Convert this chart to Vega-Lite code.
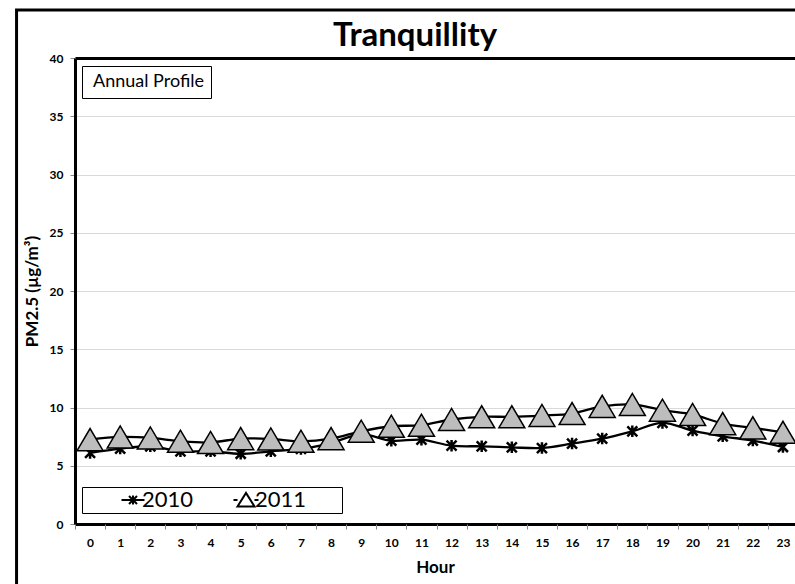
{
  "$schema": "https://vega.github.io/schema/vega-lite/v6.json",
  "width": 720,
  "height": 466,
  "autosize": {"type": "none"},
  "padding": {"left": 75, "top": 58, "right": 0, "bottom": 60},
  "background": "white",
  "config": {
    "view": {"stroke": null},
    "font": "Lato",
    "axis": {"labelFont": "Lato", "titleFont": "Lato", "labelColor": "black", "titleColor": "black"}
  },
  "title": {"text": "Tranquillity", "fontSize": 33, "font": "Lato", "fontWeight": "bold", "color": "black", "anchor": "middle", "dx": -20, "baseline": "alphabetic", "offset": -70},
  "datasets": {
    "pm": [
      {"hour": 0, "year": "2010", "pm": 6.1},
      {"hour": 1, "year": "2010", "pm": 6.47},
      {"hour": 2, "year": "2010", "pm": 6.67},
      {"hour": 3, "year": "2010", "pm": 6.24},
      {"hour": 4, "year": "2010", "pm": 6.24},
      {"hour": 5, "year": "2010", "pm": 6.03},
      {"hour": 6, "year": "2010", "pm": 6.24},
      {"hour": 7, "year": "2010", "pm": 6.44},
      {"hour": 8, "year": "2010", "pm": 6.95},
      {"hour": 9, "year": "2010", "pm": 7.7},
      {"hour": 10, "year": "2010", "pm": 7.15},
      {"hour": 11, "year": "2010", "pm": 7.24},
      {"hour": 12, "year": "2010", "pm": 6.72},
      {"hour": 13, "year": "2010", "pm": 6.67},
      {"hour": 14, "year": "2010", "pm": 6.58},
      {"hour": 15, "year": "2010", "pm": 6.52},
      {"hour": 16, "year": "2010", "pm": 6.9},
      {"hour": 17, "year": "2010", "pm": 7.33},
      {"hour": 18, "year": "2010", "pm": 7.96},
      {"hour": 19, "year": "2010", "pm": 8.68},
      {"hour": 20, "year": "2010", "pm": 8.02},
      {"hour": 21, "year": "2010", "pm": 7.53},
      {"hour": 22, "year": "2010", "pm": 7.16},
      {"hour": 23, "year": "2010", "pm": 6.61},
      {"hour": 0, "year": "2011", "pm": 7.24},
      {"hour": 1, "year": "2011", "pm": 7.47},
      {"hour": 2, "year": "2011", "pm": 7.39},
      {"hour": 3, "year": "2011", "pm": 7.1},
      {"hour": 4, "year": "2011", "pm": 7.0},
      {"hour": 5, "year": "2011", "pm": 7.33},
      {"hour": 6, "year": "2011", "pm": 7.3},
      {"hour": 7, "year": "2011", "pm": 7.1},
      {"hour": 8, "year": "2011", "pm": 7.33},
      {"hour": 9, "year": "2011", "pm": 7.96},
      {"hour": 10, "year": "2011", "pm": 8.39},
      {"hour": 11, "year": "2011", "pm": 8.48},
      {"hour": 12, "year": "2011", "pm": 8.97},
      {"hour": 13, "year": "2011", "pm": 9.2},
      {"hour": 14, "year": "2011", "pm": 9.2},
      {"hour": 15, "year": "2011", "pm": 9.31},
      {"hour": 16, "year": "2011", "pm": 9.48},
      {"hour": 17, "year": "2011", "pm": 10.1},
      {"hour": 18, "year": "2011", "pm": 10.26},
      {"hour": 19, "year": "2011", "pm": 9.77},
      {"hour": 20, "year": "2011", "pm": 9.4},
      {"hour": 21, "year": "2011", "pm": 8.62},
      {"hour": 22, "year": "2011", "pm": 8.25},
      {"hour": 23, "year": "2011", "pm": 7.87}
    ],
    "note": [{"note": "Annual Profile"}],
    "frame": [{"x0": -2.44, "x1": 30, "y0": -10, "y1": 44.12}]
  },
  "resolve": {"axis": {"x": "independent", "y": "independent"}, "scale": {"shape": "independent"}},
  "layer": [
    {
      "data": {"name": "frame"},
      "mark": {"type": "rect", "filled": false, "stroke": "black", "strokeWidth": 3, "clip": false},
      "encoding": {
        "x": {"field": "x0", "type": "quantitative", "scale": {"domain": [-0.5, 23.4], "nice": false, "zero": false}, "axis": null},
        "x2": {"field": "x1"},
        "y": {"field": "y0", "type": "quantitative", "scale": {"domain": [0, 40], "nice": false}, "axis": null},
        "y2": {"field": "y1"}
      }
    },
    {
      "data": {"name": "pm"},
      "mark": {"type": "line", "stroke": "black", "strokeWidth": 2.3, "interpolate": "catmull-rom"},
      "encoding": {
        "x": {"field": "hour", "type": "quantitative", "scale": {"domain": [-0.5, 23.4], "nice": false, "zero": false},
          "axis": {"orient": "top", "labels": false, "ticks": false, "grid": false, "title": null, "domain": true, "domainColor": "black", "domainWidth": 3}},
        "y": {"field": "pm", "type": "quantitative", "scale": {"domain": [0, 40], "nice": false},
          "axis": {"values": [0, 5, 10, 15, 20, 25, 30, 35, 40], "grid": true, "gridColor": "#d9d9d9", "gridWidth": 1.2,
            "domain": true, "domainColor": "black", "domainWidth": 3, "tickColor": "#888", "tickSize": 5,
            "labelFontSize": 12, "labelFontWeight": "bold", "labelPadding": 7,
            "title": "PM2.5 (µg/m³)", "titleFontSize": 17, "titleFontWeight": "bold", "titlePadding": 8}},
        "detail": {"field": "year", "type": "nominal"}
      }
    },
    {
      "data": {"name": "pm"},
      "transform": [{"filter": "datum.year == '2010'"}],
      "mark": {"type": "point", "shape": "M-1,-1L1,1M-1,1L1,-1M0,-1.15L0,1.15", "size": 100, "filled": false, "stroke": "black", "strokeWidth": 2.5, "opacity": 1},
      "encoding": {
        "x": {"field": "hour", "type": "quantitative", "scale": {"domain": [-0.5, 23.4], "nice": false, "zero": false},
          "axis": {"values": [0, 1, 2, 3, 4, 5, 6, 7, 8, 9, 10, 11, 12, 13, 14, 15, 16, 17, 18, 19, 20, 21, 22, 23],
            "ticks": false, "domain": true, "domainColor": "black", "domainWidth": 3,
            "grid": false, "labelFontSize": 12, "labelFontWeight": "bold", "labelPadding": 13,
            "title": "Hour", "titleFontSize": 17, "titleFontWeight": "bold", "titlePadding": 11}},
        "y": {"field": "pm", "type": "quantitative", "scale": {"domain": [0, 40], "nice": false}, "axis": null}
      }
    },
    {
      "data": {"name": "pm"},
      "transform": [{"filter": "datum.year == '2011'"}],
      "mark": {"type": "point", "shape": "M-1,0.85L0,-0.85L1,0.85Z", "size": 676, "filled": true, "fill": "#bdbdbd", "stroke": "black", "strokeWidth": 1.5, "opacity": 1},
      "encoding": {
        "x": {"field": "hour", "type": "quantitative", "scale": {"domain": [-0.5, 23.4], "nice": false, "zero": false},
          "axis": {"orient": "bottom", "values": [-0.5, 0.5, 1.5, 2.5, 3.5, 4.5, 5.5, 6.5, 7.5, 8.5, 9.5, 10.5, 11.5, 12.5, 13.5, 14.5, 15.5, 16.5, 17.5, 18.5, 19.5, 20.5, 21.5, 22.5],
            "labels": false, "ticks": true, "tickSize": 5, "tickColor": "#888", "domain": false, "grid": false, "title": null}},
        "y": {"field": "pm", "type": "quantitative", "scale": {"domain": [0, 40], "nice": false}, "axis": null}
      }
    },
    {
      "data": {"name": "pm"},
      "mark": {"type": "point", "opacity": 0, "size": 100},
      "encoding": {
        "x": {"field": "hour", "type": "quantitative", "scale": {"domain": [-0.5, 23.4], "nice": false, "zero": false}, "axis": null},
        "y": {"field": "pm", "type": "quantitative", "scale": {"domain": [0, 40], "nice": false}, "axis": null},
        "shape": {"field": "year", "type": "nominal",
          "scale": {"domain": ["2010", "2011"], "range": [
            "M-2.3,0L2.3,0M-0.8,-0.8L0.8,0.8M-0.8,0.8L0.8,-0.8M0,-0.9L0,0.9",
            "M-2.5,0L-1.7,0M1.7,0L2.5,0M-1.7,1.3L0,-1.4L1.7,1.3ZM18,0"]},
          "legend": {"orient": "none", "legendX": 7, "legendY": 429, "direction": "horizontal", "title": null,
            "strokeColor": "black", "fillColor": "white", "padding": 2, "columnPadding": 3,
            "symbolSize": 100, "symbolOpacity": 1, "symbolStrokeColor": "black", "symbolFillColor": "#bdbdbd", "symbolStrokeWidth": 2,
            "labelFont": "Lato", "labelFontSize": 22, "labelColor": "black", "labelOffset": -2, "symbolOffset": 38}}
      }
    },
    {
      "data": {"name": "note"},
      "mark": {"type": "point", "opacity": 0},
      "encoding": {
        "color": {"field": "note", "type": "nominal",
          "legend": {"orient": "none", "legendX": 7, "legendY": 8, "title": null, "strokeColor": "black", "fillColor": "white",
            "padding": 7, "symbolSize": 0, "symbolOpacity": 0, "symbolStrokeWidth": 0, "symbolOffset": 0, "labelOffset": -14,
            "labelFont": "Lato", "labelFontSize": 18, "labelColor": "black"}}
      }
    }
  ]
}
